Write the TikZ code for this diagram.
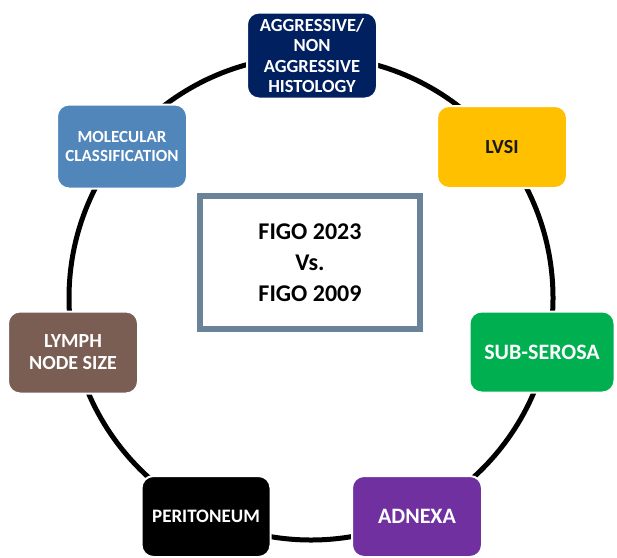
\documentclass[tikz,border=0pt]{standalone}
\usepackage{fontspec}
\setmainfont{Carlito}
\usepackage{xcolor}
\definecolor{navyblue}{HTML}{002060}
\definecolor{steelblue}{HTML}{5186BA}
\definecolor{amber}{HTML}{FFC000}
\definecolor{leafgreen}{HTML}{00B050}
\definecolor{plum}{HTML}{7030A0}
\definecolor{umber}{HTML}{7A5E54}
\definecolor{slate}{HTML}{6A8399}

\begin{document}
\begin{tikzpicture}[x=1pt, y=-1pt,
		stagebox/.style={rectangle, rounded corners=12pt, draw=white, line width=2pt,
			minimum width=130pt, minimum height=82pt, inner sep=0pt, align=center,
			text=white, font=\bfseries}]
			
			\useasboundingbox (0,0) rectangle (617,557);
			
			% Ring
			\draw[line width=5pt, black] (311,298) circle (242);
			
			% Criteria round the ring
			\node[stagebox, fill=navyblue, minimum height=86pt, font=\bfseries\fontsize{18.5}{20.5}\selectfont] (histology) at (312,55.5) {AGGRESSIVE/\\NON\\AGGRESSIVE\\HISTOLOGY};
			\node[stagebox, fill=amber, text=black!90, font=\bfseries\fontsize{20}{22}\selectfont] (lvsi) at (502,147) {LVSI};
			\node[stagebox, fill=leafgreen, minimum width=145pt, minimum height=81pt, font=\bfseries\fontsize{22}{24}\selectfont] (subserosa) at (542,352) {SUB-SEROSA};
			\node[stagebox, fill=plum, minimum height=81pt, font=\bfseries\fontsize{22}{24}\selectfont] (adnexa) at (417,516.5) {ADNEXA};
			\node[stagebox, fill=black, minimum width=129pt, minimum height=81pt, font=\bfseries\fontsize{19}{21}\selectfont] (peritoneum) at (206,516.5) {PERITONEUM};
			\node[stagebox, fill=umber, font=\bfseries\fontsize{20}{22}\selectfont] (lymph) at (73,352.5) {LYMPH\\NODE SIZE};
			\node[stagebox, fill=steelblue, minimum height=84pt, font=\bfseries\fontsize{17}{18.5}\selectfont] (molecular) at (122,146.5) {MOLECULAR\\CLASSIFICATION};
			
			% Central comparison
			\node[rectangle, draw=slate, line width=6pt, fill=white, minimum width=220pt, minimum height=133pt,
				inner sep=0pt, align=center, font=\bfseries\fontsize{24}{31}\selectfont] (figo) at (310,262.5) {FIGO 2023\\Vs.\\FIGO 2009};
			
		\end{tikzpicture}
\end{document}
